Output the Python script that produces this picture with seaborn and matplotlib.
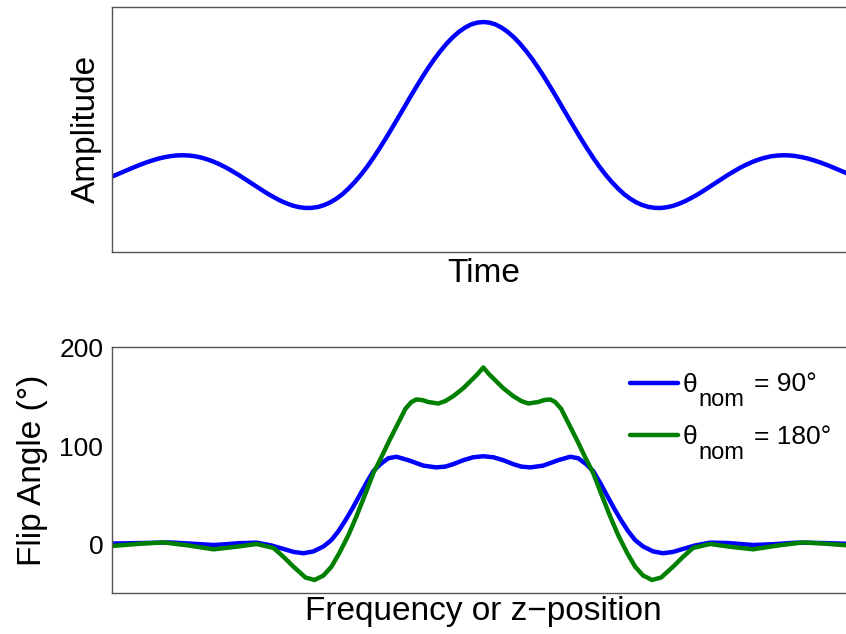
import matplotlib
matplotlib.use("Agg")
import matplotlib.pyplot as plt
import seaborn as sns
import pandas as pd

# ---------------- data ----------------
# Top panel: RF pulse amplitude vs time (arbitrary units)
time = [-3.036, -3.0, -2.95, -2.9, -2.85, -2.8, -2.75, -2.7, -2.65, -2.6, -2.55, -2.5,
        -2.45, -2.4, -2.35, -2.3, -2.25, -2.2, -2.15, -2.1, -2.05, -2.0,
        -1.95, -1.9, -1.85, -1.8, -1.75, -1.7, -1.65, -1.6, -1.55, -1.5,
        -1.45, -1.4, -1.35, -1.3, -1.25, -1.2, -1.15, -1.1, -1.05, -1.0,
        -0.95, -0.9, -0.85, -0.8, -0.75, -0.7, -0.65, -0.6, -0.55, -0.5,
        -0.45, -0.4, -0.35, -0.3, -0.25, -0.2, -0.15, -0.1, -0.05, 0.0,
        0.05, 0.1, 0.15, 0.2, 0.25, 0.3, 0.35, 0.4, 0.45, 0.5,
        0.55, 0.6, 0.65, 0.7, 0.75, 0.8, 0.85, 0.9, 0.95, 1.0,
        1.05, 1.1, 1.15, 1.2, 1.25, 1.3, 1.35, 1.4, 1.45, 1.5,
        1.55, 1.6, 1.65, 1.7, 1.75, 1.8, 1.85, 1.9, 1.95, 2.0,
        2.05, 2.1, 2.15, 2.2, 2.25, 2.3, 2.35, 2.4, 2.45, 2.5,
        2.55, 2.6, 2.65, 2.7, 2.75, 2.8, 2.85, 2.9, 2.95, 3.0, 3.036]
amplitude = [-0.012, 0.000, 0.017, 0.034, 0.051, 0.067, 0.082, 0.095, 0.107, 0.116, 0.123, 0.127,
             0.128, 0.126, 0.121, 0.112, 0.100, 0.085, 0.067, 0.047, 0.024, 0.000,
             -0.026, -0.052, -0.078, -0.104, -0.129, -0.151, -0.172, -0.189, -0.203, -0.212,
             -0.217, -0.216, -0.210, -0.198, -0.180, -0.156, -0.126, -0.089, -0.047, 0.000,
             0.052, 0.109, 0.170, 0.234, 0.300, 0.368, 0.436, 0.505, 0.572, 0.637,
             0.699, 0.757, 0.810, 0.858, 0.900, 0.935, 0.963, 0.984, 0.996, 1.000,
             0.996, 0.984, 0.963, 0.935, 0.900, 0.858, 0.810, 0.757, 0.699, 0.637,
             0.572, 0.505, 0.436, 0.368, 0.300, 0.234, 0.170, 0.109, 0.052, 0.000,
             -0.047, -0.089, -0.126, -0.156, -0.180, -0.198, -0.210, -0.216, -0.217, -0.212,
             -0.203, -0.189, -0.172, -0.151, -0.129, -0.104, -0.078, -0.052, -0.026, 0.000,
             0.024, 0.047, 0.067, 0.085, 0.100, 0.112, 0.121, 0.126, 0.128, 0.127,
             0.123, 0.116, 0.107, 0.095, 0.082, 0.067, 0.051, 0.034, 0.017, 0.000, -0.012]

# Bottom panel: flip angle profile vs frequency offset (arbitrary units)
freq_90 = [-372, -340, -314, -290, -270, -260, -245, -227, -212, -200, -190, -180, -170, -160,
           -152, -145, -138, -131, -124, -117, -110, -103, -95, -87, -75, -60, -47, -38, -30,
           -20, -10, 0, 10, 20, 30, 38, 47, 60, 75, 87, 95, 103, 110, 117, 124, 131, 138,
           145, 152, 160, 170, 180, 190, 200, 212, 227, 245, 260, 270, 290, 314, 340, 372]
angle_90 = [1.5, 2.0, 2.6, 1.2, 0.0, 0.6, 1.8, 2.4, -0.5, -4.0, -7.0, -8.4, -6.5, -1.5,
            5.0, 14.0, 25.0, 37.0, 50.0, 63.0, 75.0, 82.0, 88.0, 89.5, 86.0, 80.5, 78.7, 79.5, 82.0,
            86.0, 89.0, 90.0, 89.0, 86.0, 82.0, 79.5, 78.7, 80.5, 86.0, 89.5, 88.0, 82.0, 75.0,
            63.0, 50.0, 37.0, 25.0, 14.0, 5.0, -1.5, -6.5, -8.4, -7.0, -4.0, -0.5, 2.4, 2.0,
            0.8, 0.0, 0.8, 2.4, 2.0, 1.0]

freq_180 = [-372, -340, -320, -295, -270, -245, -227, -210, -200, -190, -178, -169, -160,
            -152, -144, -135, -127, -118, -110, -102, -94, -85, -78, -72, -67, -61, -55, -45,
            -38, -30, -20, -12, -6, 0, 6, 12, 20, 30, 38, 45, 55, 61, 67, 72, 78, 85, 94, 102,
            110, 118, 127, 135, 144, 152, 160, 169, 178, 190, 200, 210, 227, 245, 270, 295,
            320, 340, 372]
angle_180 = [-1.0, 1.5, 2.6, -0.5, -4.4, -1.5, 1.0, -3.0, -12.0, -22.0, -33.0, -35.5, -31.0,
             -22.0, -8.0, 10.0, 29.0, 52.0, 73.0, 89.0, 106.0, 124.0, 138.0, 145.0, 147.6, 147.0,
             145.0, 143.5, 146.0, 151.0, 159.0, 167.0, 173.0, 180.0, 173.0, 167.0, 159.0, 151.0,
             146.0, 143.5, 145.0, 147.0, 147.6, 145.0, 138.0, 124.0, 106.0, 89.0, 73.0, 52.0, 29.0,
             10.0, -8.0, -22.0, -31.0, -35.5, -33.0, -22.0, -12.0, -3.0, 1.0, -1.5, -4.4,
             -0.5, 2.6, 1.5, -1.0]

series_names = ["θnom = 90°", "θnom = 180°"]
legend_symbol = "θ"
legend_subscript = "nom"
legend_values = ["= 90°", "= 180°"]
yticks = [0, 100, 200]

# ---------------- style ----------------
sns.set_style("white")
plt.rcParams["font.family"] = ["Liberation Sans", "DejaVu Sans"]
plt.rcParams["text.color"] = "black"
plt.rcParams["axes.labelcolor"] = "black"
plt.rcParams["ytick.color"] = "black"
plt.rcParams["xtick.color"] = "black"
plt.rcParams["axes.edgecolor"] = "#555555"
plt.rcParams["axes.linewidth"] = 1.0

fig = plt.figure(figsize=(8.46, 6.34), dpi=100)
ax1 = fig.add_axes([0.132, 0.6025, 0.8785, 0.3869])
ax2 = fig.add_axes([0.132, 0.0642, 0.8785, 0.3880])

# top panel
sns.lineplot(x=time, y=amplitude, ax=ax1, color=(0, 0, 1), linewidth=3.2,
             sort=False, estimator=None)
ax1.set_xlim(-3.036, 3.036)
ax1.set_ylim(-0.505, 1.100)
ax1.set_xticks([])
ax1.set_yticks([])
ax1.set_xlabel("Time", fontsize=24, labelpad=4)
ax1.set_ylabel("Amplitude", fontsize=24, labelpad=7)

# bottom panel
df = pd.concat([
    pd.DataFrame({"freq": freq_90, "angle": angle_90, "series": series_names[0]}),
    pd.DataFrame({"freq": freq_180, "angle": angle_180, "series": series_names[1]}),
], ignore_index=True)
sns.lineplot(data=df, x="freq", y="angle", hue="series",
             palette={series_names[0]: (0, 0, 1), series_names[1]: (0, 0.5, 0)},
             linewidth=3.2, sort=False, estimator=None, ax=ax2)
ax2.set_xlim(-372, 372)
ax2.set_ylim(-49, 200.5)
ax2.set_xticks([])
ax2.set_yticks(yticks)
ax2.tick_params(axis="y", direction="in", length=5, width=1, color="#555555",
                labelsize=19, pad=6, right=True, labelcolor="black")
ax2.set_xlabel("Frequency or z\u2212position", fontsize=24, labelpad=2)
ax2.set_ylabel("Flip Angle (°)", fontsize=24, labelpad=8)

handles, _ = ax2.get_legend_handles_labels()
leg = ax2.legend(handles, [legend_symbol] * len(handles),
                 loc="upper left", bbox_to_anchor=(0.697, 0.896), frameon=False,
                 fontsize=19, handlelength=1.82, handletextpad=0.19, labelspacing=1.075,
                 borderaxespad=0.0, borderpad=0.0)
for line in leg.get_lines():
    line.set_linewidth(3.2)

fig.canvas.draw()
for txt, val in zip(leg.get_texts(), legend_values):
    ax2.annotate(legend_subscript, xy=(1, 0), xycoords=txt, xytext=(0.8, -6.8),
                 textcoords="offset points", fontsize=17, ha="left", va="baseline",
                 zorder=10)
    ax2.annotate(val, xy=(1, 0), xycoords=txt, xytext=(40.7, 4.0),
                 textcoords="offset points", fontsize=19, ha="left", va="baseline",
                 zorder=10)

for sp in ax1.spines.values():
    sp.set_color("#555555")
for sp in ax2.spines.values():
    sp.set_color("#555555")

fig.savefig("out.png", dpi=100)
